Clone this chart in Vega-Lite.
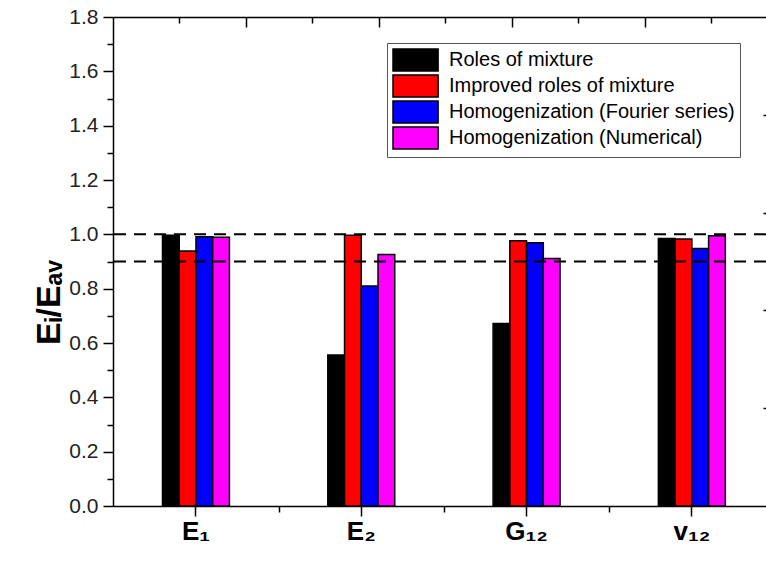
{
  "$schema": "https://vega.github.io/schema/vega-lite/v6.json",
  "width": 653,
  "height": 489,
  "autosize": {"type": "none"},
  "padding": {"left": 113, "top": 17, "right": 0, "bottom": 57},
  "background": "white",
  "config": {
    "view": {"stroke": null},
    "font": "Liberation Sans",
    "axis": {"grid": false, "domainColor": "#000000", "tickColor": "#000000", "domainWidth": 1.5, "tickWidth": 1.5, "labelColor": "#222222", "labelFont": "Liberation Sans", "titleFont": "Liberation Sans", "titleColor": "#000000"}
  },
  "datasets": {
    "bars": [
      {"param": "E₁", "method": "Roles of mixture", "value": 0.997},
      {"param": "E₁", "method": "Improved roles of mixture", "value": 0.939},
      {"param": "E₁", "method": "Homogenization (Fourier series)", "value": 0.991},
      {"param": "E₁", "method": "Homogenization (Numerical)", "value": 0.989},
      {"param": "E₂", "method": "Roles of mixture", "value": 0.556},
      {"param": "E₂", "method": "Improved roles of mixture", "value": 0.997},
      {"param": "E₂", "method": "Homogenization (Fourier series)", "value": 0.81},
      {"param": "E₂", "method": "Homogenization (Numerical)", "value": 0.926},
      {"param": "G₁₂", "method": "Roles of mixture", "value": 0.672},
      {"param": "G₁₂", "method": "Improved roles of mixture", "value": 0.976},
      {"param": "G₁₂", "method": "Homogenization (Fourier series)", "value": 0.969},
      {"param": "G₁₂", "method": "Homogenization (Numerical)", "value": 0.911},
      {"param": "v₁₂", "method": "Roles of mixture", "value": 0.985},
      {"param": "v₁₂", "method": "Improved roles of mixture", "value": 0.983},
      {"param": "v₁₂", "method": "Homogenization (Fourier series)", "value": 0.948},
      {"param": "v₁₂", "method": "Homogenization (Numerical)", "value": 0.995}
    ],
    "refs": [{"ref": 1.0}, {"ref": 0.9}],
    "minx": [{"m": 1.5}, {"m": 2.5}, {"m": 3.5}],
    "dummy": [{"d": 1}]
  },
  "layer": [
    {
      "data": {"name": "bars"},
      "mark": {"type": "bar", "stroke": "#000000", "strokeWidth": 1.5},
      "encoding": {
        "x": {
          "field": "param", "type": "nominal",
          "sort": ["E₁", "E₂", "G₁₂", "v₁₂"],
          "scale": {"paddingInner": 0.595, "paddingOuter": 0.2727, "align": 0.549},
          "axis": {"orient": "bottom", "title": null, "labelAngle": 0, "labelFontSize": 26, "labelFontWeight": "bold", "labelColor": "#000000", "tickSize": 10, "labelPadding": 2}
        },
        "xOffset": {
          "field": "method", "type": "nominal",
          "sort": ["Roles of mixture", "Improved roles of mixture", "Homogenization (Fourier series)", "Homogenization (Numerical)"],
          "scale": {"paddingInner": 0, "paddingOuter": 0}
        },
        "y": {
          "field": "value", "type": "quantitative",
          "scale": {"domain": [0, 1.8], "nice": false},
          "axis": {"orient": "left", "values": [0, 0.2, 0.4, 0.6, 0.8, 1.0, 1.2, 1.4, 1.6, 1.8], "format": ".1f", "tickSize": 10, "labelFontSize": 21, "labelPadding": 5, "title": "Eᵢ/Eₐᵥ", "titleFontSize": 34, "titleFontWeight": "bold", "titlePadding": 2, "titleY": 285}
        },
        "color": {
          "field": "method", "type": "nominal",
          "scale": {
            "domain": ["Roles of mixture", "Improved roles of mixture", "Homogenization (Fourier series)", "Homogenization (Numerical)"],
            "range": ["#000000", "#ff0000", "#0000ff", "#ff00ff"]
          },
          "legend": {
            "title": null, "orient": "none", "legendX": 274, "legendY": 26,
            "symbolType": "M-1,-1H3.1V1H-1Z", "symbolSize": 484,
            "symbolStrokeColor": "#000000", "symbolStrokeWidth": 1.5,
            "labelFontSize": 20, "labelFont": "Liberation Sans", "labelColor": "#000000",
            "labelOffset": 33, "padding": 5, "rowPadding": -3,
            "strokeColor": "#555555", "fillColor": "#ffffff", "cornerRadius": 0, "labelLimit": 400
          }
        }
      }
    },
    {
      "data": {"name": "refs"},
      "mark": {"type": "rule", "strokeDash": [12, 8], "strokeWidth": 2, "color": "#000000"},
      "encoding": {
        "y": {"field": "ref", "type": "quantitative", "scale": {"domain": [0, 1.8], "nice": false}, "axis": null}
      }
    },
    {
      "data": {"name": "minx"},
      "mark": {"type": "point", "opacity": 0},
      "encoding": {
        "x": {"field": "m", "type": "quantitative", "scale": {"domain": [0.498, 4.448], "nice": false, "zero": false},
          "axis": {"orient": "bottom", "values": [1.5, 2.5, 3.5], "labels": false, "domain": false, "tickSize": 6, "title": null}}
      }
    },
    {
      "data": {"name": "dummy"},
      "mark": {"type": "point", "opacity": 0},
      "encoding": {
        "y": {"field": "d", "type": "quantitative", "scale": {"domain": [0, 1.8], "nice": false},
          "axis": {"orient": "left", "values": [0.1, 0.3, 0.5, 0.7, 0.9, 1.1, 1.3, 1.5, 1.7], "labels": false, "domain": false, "tickSize": 6, "title": null}}
      }
    },
    {
      "data": {"name": "dummy"},
      "mark": {"type": "point", "opacity": 0},
      "encoding": {
        "x": {"field": "d", "type": "quantitative", "scale": {"domain": [0, 4.91], "nice": false, "zero": false},
          "axis": {"orient": "top", "values": [1, 2, 3, 4], "labels": false, "domain": true, "tickSize": -10, "title": null}}
      }
    },
    {
      "data": {"name": "dummy"},
      "mark": {"type": "point", "opacity": 0},
      "encoding": {
        "x": {"field": "d", "type": "quantitative", "scale": {"domain": [0, 4.91], "nice": false, "zero": false},
          "axis": {"orient": "top", "values": [0.5, 1.5, 2.5, 3.5, 4.5], "labels": false, "domain": false, "tickSize": -6, "title": null}}
      }
    },
    {
      "data": {"name": "dummy"},
      "mark": {"type": "point", "opacity": 0},
      "encoding": {
        "y": {"field": "d", "type": "quantitative", "scale": {"domain": [0, 5], "nice": false},
          "axis": {"orient": "right", "values": [1, 2, 3, 4], "labels": false, "domain": false, "tickSize": -3, "title": null}}
      }
    }
  ],
  "resolve": {
    "scale": {"x": "independent", "y": "independent"},
    "axis": {"x": "independent", "y": "independent"}
  }
}
